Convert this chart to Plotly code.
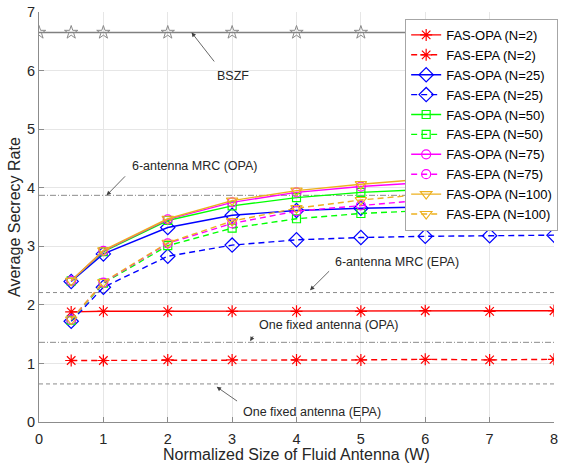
import plotly.graph_objects as go

# ---------------- data ----------------
W = [0.5, 1, 2, 3, 4, 5, 6, 7, 8]
bszf_x = [0, 0.5, 1, 2, 3, 4, 5, 6, 7, 8]
bszf_val = 6.65

opa_n2 = [1.88, 1.89, 1.89, 1.89, 1.89, 1.89, 1.90, 1.89, 1.90]
epa_n2 = [1.05, 1.05, 1.06, 1.06, 1.06, 1.06, 1.07, 1.06, 1.07]
opa_n25 = [2.40, 2.87, 3.32, 3.53, 3.61, 3.65, 3.67, 3.68, 3.69]
epa_n25 = [1.72, 2.30, 2.83, 3.02, 3.11, 3.15, 3.17, 3.18, 3.19]
opa_n50 = [2.41, 2.91, 3.44, 3.69, 3.83, 3.92, 3.97, 4.00, 4.03]
epa_n50 = [1.74, 2.37, 3.01, 3.31, 3.47, 3.56, 3.61, 3.65, 3.66]
opa_n75 = [2.41, 2.92, 3.46, 3.75, 3.92, 4.02, 4.09, 4.14, 4.19]
epa_n75 = [1.75, 2.38, 3.05, 3.39, 3.60, 3.70, 3.79, 3.84, 3.88]
opa_n100 = [2.41, 2.93, 3.47, 3.78, 3.95, 4.06, 4.15, 4.21, 4.26]
epa_n100 = [1.75, 2.39, 3.06, 3.43, 3.65, 3.79, 3.89, 3.96, 3.99]

mrc_opa = 3.87
mrc_epa = 2.21
fixed_opa = 1.36
fixed_epa = 0.65

x_ticks = [0, 1, 2, 3, 4, 5, 6, 7, 8]
y_ticks = [0, 1, 2, 3, 4, 5, 6, 7]

x_title = "Normalized Size of Fluid Antenna (W)"
y_title = "Average Secrecy Rate"

# ---------------- figure ----------------
fig = go.Figure()

ref_color = "#7f7f7f"
for val, dash in [(mrc_opa, "6px,2px,1px,2px"), (mrc_epa, "4px,3px"),
                  (fixed_opa, "6px,2px,1px,2px"), (fixed_epa, "4px,3px")]:
    fig.add_trace(go.Scatter(x=[0, 8], y=[val, val], mode="lines",
                             line=dict(color=ref_color, width=0.9, dash=dash),
                             showlegend=False, hoverinfo="skip"))

fig.add_trace(go.Scatter(x=bszf_x, y=[bszf_val] * len(bszf_x), mode="lines+markers",
                         line=dict(color="#808080", width=1.3),
                         marker=dict(symbol="star-open", size=10, color="#8a8a8a",
                                     line=dict(width=1, color="#8a8a8a")),
                         showlegend=False))

series = [
    ("FAS-OPA (N=2)", opa_n2, "#FF0000", "asterisk-open", "solid", 10),
    ("FAS-EPA (N=2)", epa_n2, "#FF0000", "asterisk-open", "6px,4px", 10),
    ("FAS-OPA (N=25)", opa_n25, "#0000FF", "diamond-open", "solid", 11),
    ("FAS-EPA (N=25)", epa_n25, "#0000FF", "diamond-open", "6px,4px", 11),
    ("FAS-OPA (N=50)", opa_n50, "#00FF00", "square-open", "solid", 8),
    ("FAS-EPA (N=50)", epa_n50, "#00FF00", "square-open", "6px,4px", 8),
    ("FAS-OPA (N=75)", opa_n75, "#FF00FF", "circle-open", "solid", 9),
    ("FAS-EPA (N=75)", epa_n75, "#FF00FF", "circle-open", "6px,4px", 9),
    ("FAS-OPA (N=100)", opa_n100, "#EDB120", "triangle-down-open", "solid", 10),
    ("FAS-EPA (N=100)", epa_n100, "#EDB120", "triangle-down-open", "6px,4px", 10),
]
for name, ys, col, sym, dash, sz in series:
    fig.add_trace(go.Scatter(x=W, y=ys, name=name, mode="lines+markers",
                             line=dict(color=col, width=1.4, dash=dash),
                             marker=dict(symbol=sym, size=sz, color=col,
                                         line=dict(width=1.2, color=col))))

FONT = "Liberation Sans, Arial, sans-serif"
txt_font = dict(family=FONT, size=12.5, color="#262626")
title_font = dict(family=FONT, size=16, color="#262626")
arrow_col = "#404040"

labels = [
    ("BSZF", 3.02, 5.91),
    ("6-antenna MRC (OPA)", 2.42, 4.37),
    ("6-antenna MRC (EPA)", 5.56, 2.73),
    ("One fixed antenna (OPA)", 4.50, 1.66),
    ("One fixed antenna (EPA)", 4.24, 0.17),
]
for t, xx, yy in labels:
    fig.add_annotation(x=xx, y=yy, text=t, showarrow=False, font=txt_font,
                       xanchor="center", yanchor="middle")

arrows = [
    (2.37, bszf_val, 2.74, 6.13),
    (1.05, mrc_opa, 1.36, 4.22),
    (4.21, mrc_epa + 0.04, 4.53, 2.60),
    (3.28, fixed_opa + 0.02, 3.34, 1.49),
    (2.76, fixed_epa - 0.05, 3.10, 0.34),
]
for hx, hy, tx, ty in arrows:
    fig.add_annotation(x=hx, y=hy, ax=tx, ay=ty, axref="x", ayref="y",
                       xref="x", yref="y", text="", showarrow=True,
                       arrowhead=2, arrowsize=1.1, arrowwidth=0.8,
                       arrowcolor=arrow_col, standoff=0, startstandoff=0)

# axis titles as annotations for exact placement
fig.add_annotation(text=x_title, xref="paper", yref="paper", x=0.5, y=0,
                   yshift=-32, xanchor="center", yanchor="middle",
                   showarrow=False, font=title_font)
fig.add_annotation(text=y_title, xref="paper", yref="paper", x=0, y=0.5,
                   xshift=-25, xanchor="center", yanchor="middle", textangle=-90,
                   showarrow=False, font=title_font)

axis_common = dict(showgrid=True, gridcolor="#e6e6e6", gridwidth=1,
                   showline=True, linecolor="#8c8c8c", linewidth=1,
                   ticks="inside", ticklen=5, tickcolor="#8c8c8c",
                   zeroline=False, mirror=False, automargin=False,
                   tickfont=dict(family=FONT, size=14.5, color="#262626"))

fig.update_layout(
    width=569, height=470,
    margin=dict(l=39, r=11, t=12, b=48),
    paper_bgcolor="white", plot_bgcolor="white",
    xaxis=dict(range=[0, 8], tickvals=x_ticks, ticklabelstandoff=4, **axis_common),
    yaxis=dict(range=[0, 7], tickvals=y_ticks, **axis_common),
    legend=dict(x=0.711, y=0.983, xanchor="left", yanchor="top",
                bgcolor="white", bordercolor="#a6a6a6", borderwidth=1,
                font=dict(family=FONT, size=13, color="#000000"),
                tracegroupgap=0, itemwidth=30),
    showlegend=True,
)

fig.write_html("out.html", config={"displayModeBar": False},
               post_script="document.body.style.margin='0';document.body.style.overflow='hidden';")
